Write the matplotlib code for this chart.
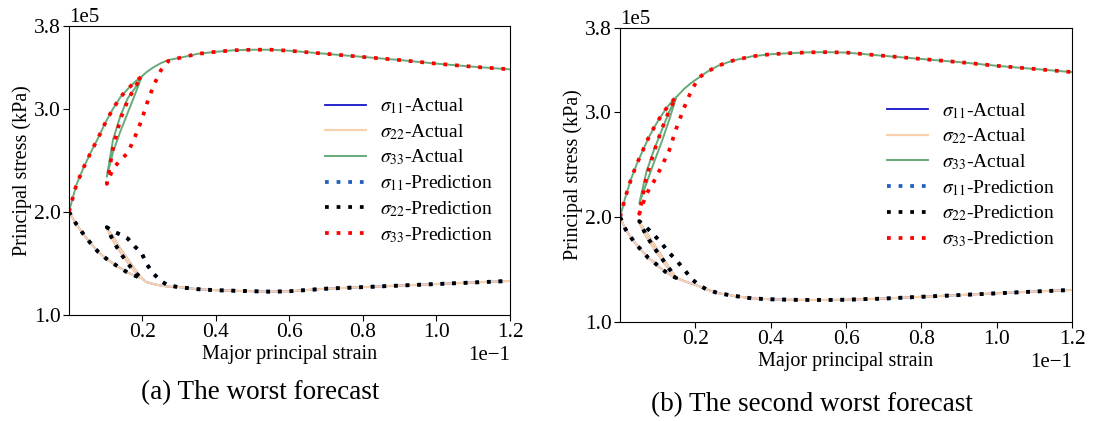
import numpy as np
import matplotlib.pyplot as plt

plt.rcParams['font.family'] = ['Liberation Serif', 'DejaVu Serif']
plt.rcParams['mathtext.fontset'] = 'stix'

# panel (a): loading -> unloading -> reloading -> loading
strain_a = [0, 0.002, 0.004, 0.006, 0.008, 0.010, 0.012, 0.014, 0.016, 0.018, 0.0198,
            0.018, 0.016, 0.014, 0.012, 0.0103,
            0.012, 0.014, 0.016, 0.018, 0.0198,
            0.021, 0.023, 0.025, 0.027, 0.030, 0.035, 0.040, 0.045, 0.050, 0.055,
            0.060, 0.070, 0.080, 0.090, 0.100, 0.110, 0.120]
s33_act_a = [200, 226, 243, 258, 272, 287, 300, 311, 319, 326, 331,
             320, 310, 293, 270, 234,
             258, 278, 296, 314, 331,
             335, 340, 344, 347, 349, 353, 355, 356.5, 357, 357,
             356, 353, 350, 347, 343.5, 340.5, 338]
s33_pred_a = [200, 226, 243, 258, 272, 287, 300, 311, 319, 326, 331,
              321, 308, 290, 262, 227,
              242, 250, 257, 273, 289,
              303, 322, 337, 346, 349, 353, 355, 356.5, 357, 357,
              356, 353, 350, 347, 343.5, 340.5, 338]
s22_act_a = [200, 188, 178, 169, 161, 155, 150, 145.5, 141, 138, 135.5,
             142, 151, 161, 172, 184,
             176, 164, 154, 144, 135.5,
             132, 130, 128.5, 127.5, 127, 125, 124, 123.5, 123, 122.6,
             123, 125.5, 127, 128.5, 130, 131.5, 133]
s22_pred_a = [200, 188, 178, 169, 161, 155, 150, 145.5, 141, 138, 135.5,
              141, 150, 160, 172, 185,
              181, 178, 174, 166, 160,
              150, 140, 133, 128.5, 127, 125, 124, 123.5, 123, 122.6,
              123, 125.5, 127, 128.5, 130, 131.5, 133]
s11_act_a = s22_act_a
s11_pred_a = s22_pred_a

# panel (b)
strain_b = [0, 0.0015, 0.003, 0.0045, 0.006, 0.0075, 0.009, 0.0105, 0.012, 0.0135, 0.0149,
            0.013, 0.011, 0.009, 0.007, 0.0051,
            0.007, 0.009, 0.011, 0.013, 0.0149,
            0.017, 0.019, 0.021, 0.023, 0.026, 0.030, 0.035, 0.040, 0.045, 0.050, 0.055,
            0.060, 0.070, 0.080, 0.090, 0.100, 0.110, 0.120]
s33_act_b = [200, 220, 237, 251, 263, 275, 285, 294, 302, 309, 314,
             300, 282, 264, 243, 213,
             232, 252, 271, 292, 314,
             322, 328, 333, 338, 344, 349, 353, 355, 356, 356.8, 357,
             356.6, 353.5, 350.5, 347.5, 344, 341, 338]
s33_pred_b = [200, 220, 237, 251, 263, 275, 285, 294, 302, 309, 314,
              301, 283, 262, 238, 203,
              222, 234, 248, 263, 284,
              304, 321, 333, 338, 344, 349, 353, 355, 356, 356.8, 357,
              356.6, 353.5, 350.5, 347.5, 344, 341, 338]
s22_act_b = [200, 188, 180, 173, 167, 161, 157, 152, 148, 144.5, 142,
             150, 160, 170, 181, 195,
             185, 174, 163, 152, 142,
             139, 136.5, 134, 131, 127.5, 125, 122.5, 121.6, 121.2, 121, 121,
             121.2, 122.3, 124, 125.6, 127.3, 129, 130.5]
s22_pred_b = [200, 188, 180, 173, 167, 161, 157, 152, 148, 144.5, 142,
              151, 161, 171, 182, 196,
              190, 183, 175, 166, 159,
              150, 141, 135, 131, 127.5, 125, 122.5, 121.6, 121.2, 121, 121,
              121.2, 122.3, 124, 125.6, 127.3, 129, 130.5]
s11_act_b = s22_act_b
s11_pred_b = s22_pred_b

captions = ['(a) The worst forecast', '(b) The second worst forecast']

fig = plt.figure(figsize=(10.93, 4.21), dpi=100)
ax_a = fig.add_axes([0.0631, 0.2518, 0.4035, 0.6865])
ax_b = fig.add_axes([0.5673, 0.2352, 0.4135, 0.6983])

dots = (0, (1, 2.1))

def draw(ax, x, s11, s22, s33, p11, p22, p33):
    x = np.array(x)
    k = 1000.0
    ax.plot(x, np.array(s11) * k, color='#1515c8', lw=1.3, label=r'$\sigma_{11}$-Actual')
    ax.plot(x, np.array(s22) * k, color='#f7d2ae', lw=1.6, label=r'$\sigma_{22}$-Actual')
    ax.plot(x, np.array(s33) * k, color='#66ab7a', lw=1.4, label=r'$\sigma_{33}$-Actual')
    ax.plot(x, np.array(p11) * k, color='#1f5fbf', lw=2.7, ls=dots, label=r'$\sigma_{11}$-Prediction')
    ax.plot(x, np.array(p22) * k, color='black', lw=2.7, ls=dots, label=r'$\sigma_{22}$-Prediction')
    ax.plot(x, np.array(p33) * k, color='red', lw=2.7, ls=dots, label=r'$\sigma_{33}$-Prediction')
    ax.set_xlim(0, 0.12)
    ax.set_ylim(1.0e5, 3.8e5)
    ax.set_xticks([0.02, 0.04, 0.06, 0.08, 0.10, 0.12])
    ax.set_yticks([1.0e5, 2.0e5, 3.0e5, 3.8e5])
    ax.ticklabel_format(style='sci', axis='both', scilimits=(0, 0), useMathText=False)
    ax.tick_params(labelsize=15.5, length=4, width=0.8, pad=2)
    ax.xaxis.get_offset_text().set_fontsize(15)
    ax.yaxis.get_offset_text().set_fontsize(15)
    ax.set_xlabel('Major principal strain', fontsize=14.5, labelpad=2)
    ax.set_ylabel('Principal stress (kPa)', fontsize=14.5, labelpad=1)
    ax.legend(loc='center right', frameon=False, fontsize=14, handlelength=2.1,
              labelspacing=0.31, borderaxespad=0.5, handletextpad=0.7)

draw(ax_a, strain_a, s11_act_a, s22_act_a, s33_act_a, s11_pred_a, s22_pred_a, s33_pred_a)
draw(ax_b, strain_b, s11_act_b, s22_act_b, s33_act_b, s11_pred_b, s22_pred_b, s33_pred_b)

fig.text(260 / 1093, 1 - 393 / 421, captions[0], ha='center', va='center', fontsize=19.5)
fig.text(812 / 1093, 1 - 405 / 421, captions[1], ha='center', va='center', fontsize=19.5)

fig.savefig('out.png', dpi=100)
